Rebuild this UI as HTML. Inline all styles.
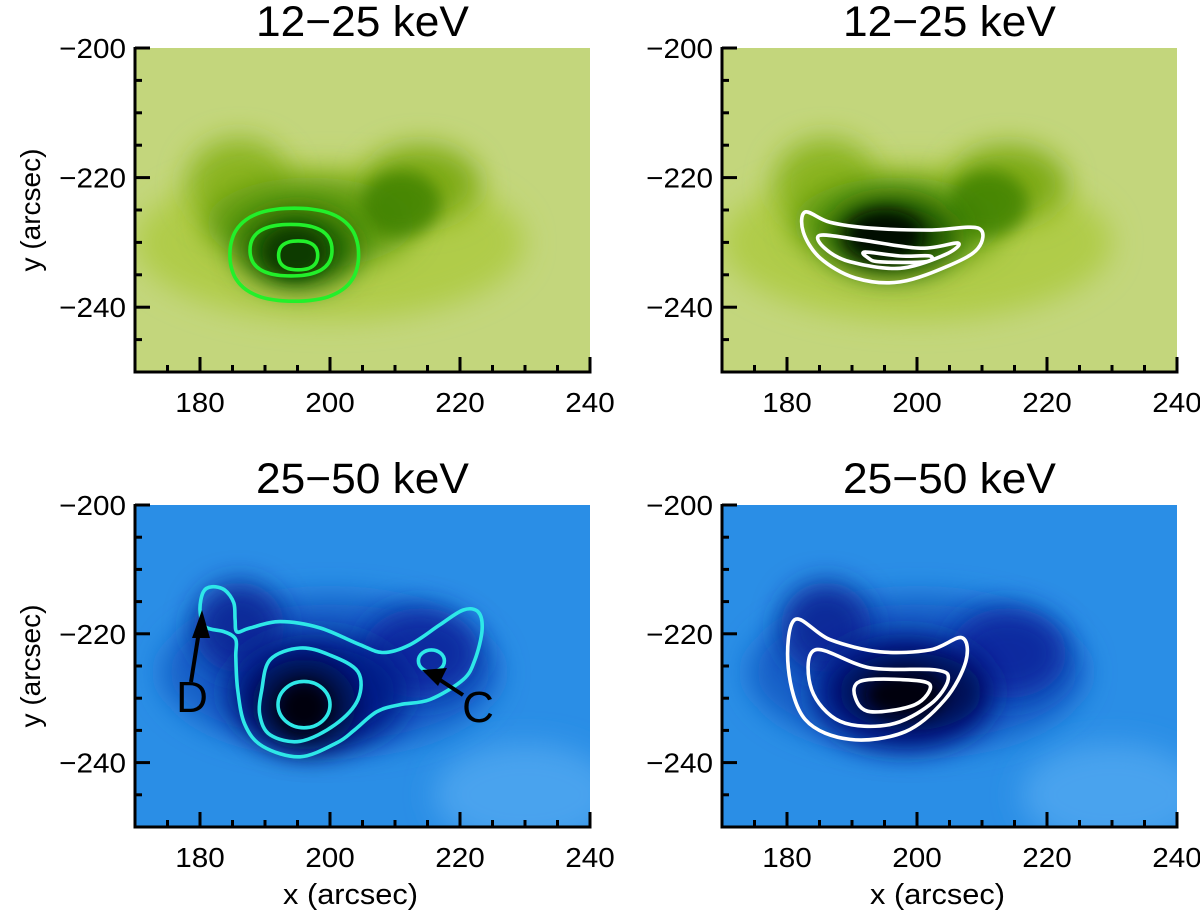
<!DOCTYPE html>
<html><head><meta charset="utf-8"><style>
html,body{margin:0;padding:0;background:#fff;}
svg{display:block;font-family:"Liberation Sans",Arial,sans-serif;}
</style></head><body>
<svg id="fig" width="1200" height="915" viewBox="0 0 1200 915" xmlns="http://www.w3.org/2000/svg">
<defs>
<filter id="blurA" x="-50%" y="-50%" width="200%" height="200%"><feGaussianBlur stdDeviation="14"/></filter>
<filter id="blurB" x="-50%" y="-50%" width="200%" height="200%"><feGaussianBlur stdDeviation="8"/></filter>
</defs>
</svg>
<script>
// axis ranges & ticks
const xTicksMajor = [180, 200, 220, 240];
const yTicksMajor = [-200, -220, -240];
const xRange = [170, 240];
const yRange = [-250, -200];
const panelTitles = ["12\u221225 keV", "12\u221225 keV", "25\u221250 keV", "25\u221250 keV"];

// contour data (arcsec)
const tlContours = [
  {cx:194.5, cy:-231.9, rx:10.2, ry:7.4},
  {cx:194.0, cy:-231.2, rx:6.5, ry:4.1},
  {cx:195.1, cy:-232.0, rx:3.1, ry:2.3}
];
const trOuter = [[182.8,-225.3],[186.6,-226.9],[192.8,-227.8],[202,-228.1],[209.4,-227.8],[209.4,-230.9],[205.1,-233.5],[197.4,-236.1],[190.5,-235.5],[185.1,-232.4],[182.5,-228.4]];
const trMiddle = [[185.1,-228.9],[191.2,-229.6],[200.5,-230.9],[206.3,-230.1],[204.3,-231.9],[197.4,-234],[189.7,-233],[185.8,-230.9]];
const trInner = [[192,-231.5],[197.4,-232.1],[202,-232.1],[201.2,-233],[194.3,-233],[192.5,-232.4]];
const blOuter = [[180.8,-218.9],[180.0,-216.3],[180.5,-213.5],[181.8,-212.7],[183.8,-213.2],[185.2,-215.2],[185.4,-217.8],[185.7,-219.7],[187.7,-219.1],[192.3,-218.1],[198.5,-219.1],[204.6,-221.7],[208.2,-222.9],[212.3,-221.7],[216.9,-218.6],[220.5,-216.3],[222.8,-216.6],[223.4,-219.4],[222.3,-224.0],[220.5,-227.1],[215.4,-230.2],[210.8,-231.0],[207.2,-232.1],[203.8,-234.9],[201.1,-236.9],[195.4,-239.1],[189.7,-237.5],[186.9,-234.1],[185.8,-228.7],[185.5,-223.6],[185.5,-220.9],[183.8,-219.7]];
const blMiddle = [[189.5,-228.7],[190.8,-224.0],[195.4,-222.2],[200.0,-223.3],[204.3,-225.9],[204.3,-230.2],[200.8,-234.1],[195.4,-236.7],[190.8,-235.7],[189.2,-232.6]];
const blInner = {cx:196.0, cy:-231.0, rx:4.0, ry:3.6};
const blC = {cx:215.6, cy:-224.2, rx:2.0, ry:1.7};
const brOuter = [[181.2,-217.8],[186.6,-220.9],[194.3,-222.8],[202,-222.5],[206.9,-220.6],[207.5,-224.3],[204.3,-230.2],[198.2,-235.2],[189.7,-236.4],[182.8,-233.3],[180.2,-225.3]];
const brMiddle = [[184.3,-222.5],[192.8,-225.3],[202.8,-225.6],[204.8,-227.1],[202,-231],[195.8,-234.1],[188.2,-233.6],[183.8,-228.7]];
const brInner = [[191.2,-227.4],[197.4,-227.1],[202,-227.9],[199.7,-231],[192.8,-232.1],[190.5,-229.9]];

const svg = document.getElementById('fig');
const NS = 'http://www.w3.org/2000/svg';
function mk(tag, attrs, parent){const e=document.createElementNS(NS,tag);for(const k in attrs)e.setAttribute(k,attrs[k]);(parent||svg).appendChild(e);return e;}
function txt(parent,x,y,size,sx,anchor,str){
  const t=mk('text',{transform:'translate('+x+','+y+') scale('+sx+',1)','font-size':size,'text-anchor':anchor},parent);
  t.textContent=str;return t;
}

const panels = [
  {x0:135,x1:590,y0:48,y1:372,name:'panel-top-left',theme:'green'},
  {x0:722,x1:1177,y0:48,y1:372,name:'panel-top-right',theme:'green2'},
  {x0:135,x1:590,y0:505,y1:827,name:'panel-bottom-left',theme:'blue'},
  {x0:722,x1:1177,y0:505,y1:827,name:'panel-bottom-right',theme:'blue2'}
];

function smooth(pts){
  const n=pts.length;let d='M'+pts[0][0]+','+pts[0][1];
  for(let i=0;i<n;i++){
    const p0=pts[(i-1+n)%n],p1=pts[i],p2=pts[(i+1)%n],p3=pts[(i+2)%n];
    const c1=[p1[0]+(p2[0]-p0[0])/6,p1[1]+(p2[1]-p0[1])/6];
    const c2=[p2[0]-(p3[0]-p1[0])/6,p2[1]-(p3[1]-p1[1])/6];
    d+=' C'+c1[0].toFixed(1)+','+c1[1].toFixed(1)+' '+c2[0].toFixed(1)+','+c2[1].toFixed(1)+' '+p2[0].toFixed(1)+','+p2[1].toFixed(1);
  }
  return d+'Z';
}

panels.forEach((p,i)=>{
  const g=mk('g',{});
  
  
  const sx=v=>p.x0+(v-xRange[0])/(xRange[1]-xRange[0])*(p.x1-p.x0);
  const sy=v=>p.y1-(v-yRange[0])/(yRange[1]-yRange[0])*(p.y1-p.y0);
  const kx=(p.x1-p.x0)/(xRange[1]-xRange[0]), ky=(p.y1-p.y0)/(yRange[1]-yRange[0]);
  const cid='clip'+i;
  const cp=mk('clipPath',{id:cid},svg.querySelector('defs'));
  mk('rect',{x:p.x0,y:p.y0,width:p.x1-p.x0,height:p.y1-p.y0},cp);
  const img=mk('g',{'clip-path':'url(#'+cid+')'},g);
  
  
  const E=(cx,cy,rx,ry,fill,f,op)=>mk('ellipse',{cx:sx(cx),cy:sy(cy),rx:rx*kx,ry:ry*ky,fill:fill,filter:'url(#'+f+')',opacity:op==null?1:op},img);
  if(p.theme.startsWith('green')){
    mk('rect',{x:p.x0,y:p.y0,width:p.x1-p.x0,height:p.y1-p.y0,fill:'#c3d67c'},img);
    E(200,-230,30,12,'#b0cc48','blurA');
    E(186,-221,8,7,'#8cb520','blurA');
    E(214,-221,9,6,'#7fab18','blurA');
    E(197,-227,16,7,'#5f9a10','blurA');
    E(211,-224,6,5,'#3e8000','blurB',0.8);
    if(p.theme==='green'){
      E(195,-231,9,6,'#1f6000','blurA');
      E(194.5,-231.5,5,4,'#0a3a00','blurB');
    } else {
      E(196,-229,10,6,'#174e00','blurA');
      E(195,-229,6,4,'#000a00','blurB');
    }
  } else {
    mk('rect',{x:p.x0,y:p.y0,width:p.x1-p.x0,height:p.y1-p.y0,fill:'#2a8ee6'},img);
    E(230,-245,14,8,'#4aa3ee','blurA');
    E(200,-226,26,12,'#1560c8','blurA');
    E(186,-219,7,7,'#0a2a9a','blurA');
    E(214,-223,9,7,'#0a2aa0','blurA');
    E(198,-229,14,9,'#061a8a','blurA');
    if(p.theme==='blue'){
      E(196,-231,8,7,'#020a40','blurA');
      E(196,-231.5,4,4,'#000010','blurB');
    } else {
      E(199,-229,11,6,'#020c50','blurA');
      E(198,-229.5,6,3.5,'#000010','blurB');
    }
  }
  // contours
  const cg=mk('g',{fill:'none','stroke-width':3.6,'stroke-linejoin':'round'},g);
  
  
  const poly=(arr,col)=>{const e=mk('path',{d:smooth(arr.map(q=>[sx(q[0]),sy(q[1])])),stroke:col},cg);};
  const ell=(o,col)=>{const e=mk('ellipse',{cx:sx(o.cx),cy:sy(o.cy),rx:o.rx*kx,ry:o.ry*ky,stroke:col},cg);};
  if(i===0){tlContours.forEach(c=>{
    const pts=[];for(let a=0;a<24;a++){const t=a/24*2*Math.PI;const sq=1-0.03*Math.cos(4*t);pts.push([c.cx+c.rx*Math.cos(t)*sq,c.cy+c.ry*Math.sin(t)*sq]);}
    poly(pts,'#22f02a');});}
  if(i===1){[trOuter,trMiddle,trInner].forEach(a=>poly(a,'#ffffff'));}
  if(i===2){poly(blOuter,'#2ee8e8');poly(blMiddle,'#2ee8e8');ell(blInner,'#2ee8e8');ell(blC,'#2ee8e8');}
  if(i===3){[brOuter,brMiddle,brInner].forEach(a=>poly(a,'#ffffff'));}
  // axes
  const ax=mk('g',{stroke:'#000','stroke-width':3,fill:'none'},g);
  
  
  mk('line',{x1:p.x0,y1:p.y0-1,x2:p.x0,y2:p.y1+1.5},ax);
  mk('line',{x1:p.x0-1.5,y1:p.y1,x2:p.x1+1.5,y2:p.y1},ax);
  for(let v=xRange[0]+5;v<=xRange[1];v+=5){const big=xTicksMajor.includes(v);mk('line',{x1:sx(v),y1:p.y1,x2:sx(v),y2:p.y1-(big?15:7)},ax);}
  for(let v=yRange[0]+5;v<=yRange[1];v+=5){const big=yTicksMajor.includes(v);mk('line',{x1:p.x0,y1:sy(v),x2:p.x0+(big?15:7),y2:sy(v)},ax);}
  xTicksMajor.forEach(v=>{const t=txt(g,sx(v),p.y1+40,28,1.06,'middle',String(v));});
  yTicksMajor.forEach(v=>{const t=txt(g,p.x0-9,sy(v)+10,28,1.06,'end','\u2212'+Math.abs(v));});
  const tt=txt(g,(p.x0+p.x1)/2,p.y0-12,43,1.03,'middle',panelTitles[i]);
  
  
  if(i%2===0){const yl=mk('text',{x:0,y:0,'font-size':28,'text-anchor':'middle',transform:'translate(40,'+((p.y0+p.y1)/2)+') rotate(-90)'},g);yl.textContent='y (arcsec)';
    
    }
  if(i>=2){const xl=txt(g,(p.x0+p.x1)/2-12,904,29,1.06,'middle','x (arcsec)');
    
    }
  if(i===2){
    const an=mk('g',{},g);
    
    
    mk('line',{x1:191,y1:682,x2:200,y2:625,stroke:'#000','stroke-width':4},an);
    mk('polygon',{points:'202,610 192,638 210,638',fill:'#000'},an);
    txt(an,192,712,44,1.0,'middle','D');
    mk('line',{x1:463,y1:695,x2:437,y2:678,stroke:'#000','stroke-width':4},an);
    mk('polygon',{points:'422,670 447,668 438,686',fill:'#000'},an);
    txt(an,478,722,44,1.0,'middle','C');
  }
});
</script>
</body></html>
